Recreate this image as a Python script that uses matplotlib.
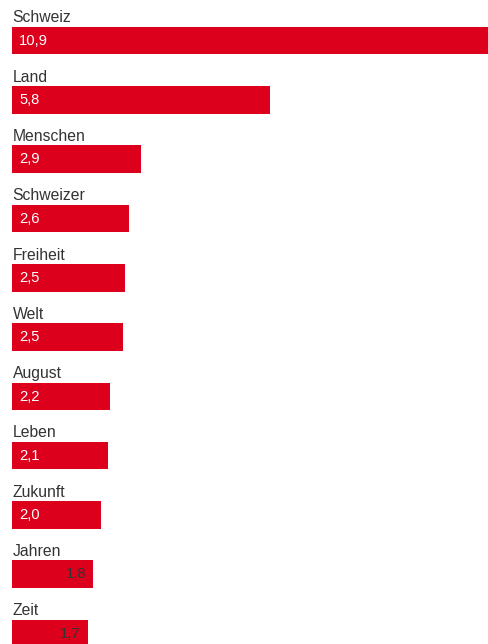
import matplotlib

matplotlib.use("Agg")
import matplotlib.pyplot as plt

# Word frequencies (per mille)
WORDS = ["Schweiz", "Land", "Menschen", "Schweizer", "Freiheit", "Welt",
         "August", "Leben", "Zukunft", "Jahren", "Zeit"]
VALUES = [10.98, 5.82, 2.90, 2.64, 2.55, 2.50, 2.20, 2.16, 2.00, 1.82, 1.70]
VALUE_LABELS = ["10,9", "5,8", "2,9", "2,6", "2,5", "2,5",
                "2,2", "2,1", "2,0", "1,8", "1,7"]

BAR_COLOR = "#dc001c"
TEXT_COLOR = "#333333"
FONT = ["Liberation Sans", "DejaVu Sans"]

W, H = 489, 644
X0 = 12.5          # pixel where value 0 sits
SCALE = 44.3       # pixels per unit
TOP0 = 26.8        # top of first bar (px)
PITCH = 59.3       # distance between bars (px)
BAR_H = 27.5

plt.rcParams["font.family"] = FONT

fig = plt.figure(figsize=(W / 100, H / 100), dpi=100)
ax = fig.add_axes([0, 0, 1, 1])
ax.set_xlim(-X0 / SCALE, (W - X0) / SCALE)
ax.set_ylim(H, 0)
ax.axis("off")

for i, (word, val, lab) in enumerate(zip(WORDS, VALUES, VALUE_LABELS)):
    top = TOP0 + i * PITCH
    ax.barh(top, val, height=BAR_H, align="edge", color=BAR_COLOR,
            linewidth=0)
    ax.text(0, top - 4.5, word, va="baseline", ha="left",
            fontsize=11.3, color=TEXT_COLOR)
    if val < 1.9:
        # short bars: value right-aligned in dark text
        ax.text(val - 7 / SCALE, top + 18, lab, va="baseline", ha="right",
                fontsize=10.6, color=TEXT_COLOR)
    else:
        ax.text(6.5 / SCALE, top + 18, lab, va="baseline", ha="left",
                fontsize=10.6, color="white")

fig.savefig("out.png", dpi=100)
